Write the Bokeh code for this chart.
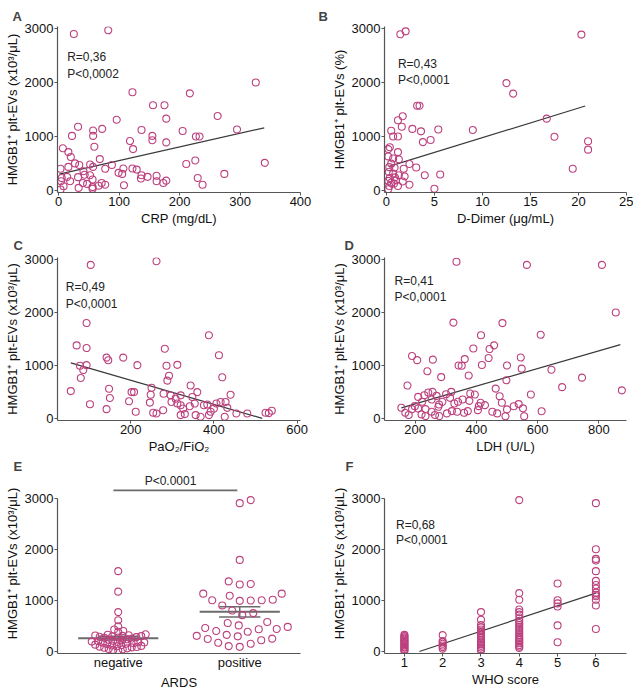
from bokeh.plotting import figure
from bokeh.models import Range1d, FixedTicker, Label
from bokeh.layouts import column, row
from bokeh.embed import file_html
from bokeh.resources import INLINE

FONT = "Liberation Sans"
PINK = "#bc407e"
AXIS = "#555555"
FIT = "#3a3a3a"

Y_TICKS = [0, 1000, 2000, 3000]
Y_LABEL = "HMGB1\u207a plt-EVs (x10\u00b3/\u03bcL)"

# ---------------- A: CRP ----------------
crp = [25, 82, 326, 122, 217, 156, 175, 178, 96, 263,
       32, 57, 72, 137, 205, 295, 22, 57, 155, 155,
       227, 233, 118, 178, 59, 123, 7, 16, 20, 68,
       27, 34, 52, 57, 88, 77, 3, 16, 211, 226,
       341, 99, 105, 107, 122, 129, 137, 147, 162, 162,
       178, 173, 230, 274, 238, 108, 136, 43, 32, 14,
       4, 19, 40, 47, 56, 66, 77, 56, 56, 33,
       8, 3, 5, 52, 41, 71]
crp_evs = [2900, 2970, 2000, 1820, 1800, 1580, 1580, 1330, 1310, 1380,
           1180, 1110, 1140, 1120, 1100, 1130, 1010, 1010, 1010, 930,
           1000, 1000, 915, 890, 810, 765, 780, 710, 620, 580,
           500, 470, 480, 435, 470, 400, 400, 435, 490, 555,
           510, 325, 305, 405, 405, 385, 280, 250, 270, 170,
           180, 135, 230, 305, 105, 95, 220, 290, 245, 250,
           170, 170, 135, 120, 200, 85, 105, 60, 30, 45,
           75, 15, 230, 280, 355, 135]
crp_fit_x = [1, 340]
crp_fit_y = [300, 1160]
crp_stats = ["R=0,36", "P<0,0002"]

# ---------------- B: D-Dimer ----------------
ddimer = [1.45, 2.0, 20.3, 12.5, 13.2, 3.2, 3.45, 16.7, 1.7, 1.2,
          1.6, 2.7, 3.6, 5.4, 9.0, 0.5, 0.7, 1.2, 4.6, 3.8,
          17.5, 21.0, 21.0, 19.4, 0.35, 0.2, 1.2, 0.2, 1.3, 0.5,
          2.4, 3.1, 1.8, 0.85, 0.25, 0.7, 1.3, 1.9, 4.0, 5.6,
          0.35, 1.0, 1.7, 2.4, 1.2, 0.3, 0.2, 5.0, 0.8, 0.2,
          0.3, 0.7, 0.9, 0.5]
ddimer_evs = [2895, 2950, 2890, 1990, 1795, 1570, 1570, 1330, 1375, 1300,
              1180, 1140, 1095, 1130, 1120, 1105, 1000, 1000, 935, 895,
              995, 910, 755, 400, 800, 765, 710, 630, 575, 495,
              490, 425, 400, 420, 340, 310, 280, 260, 280, 295,
              230, 185, 165, 105, 80, 80, 20, 30, 125, 175,
              430, 590, 240, 140]
ddimer_fit_x = [0.28, 20.7]
ddimer_fit_y = [445, 1565]
ddimer_stats = ["R=0,43", "P<0,0001"]

# ---------------- C: PaO2/FiO2 ----------------
pf = [104, 262, 94, 70, 94, 142, 146, 182, 78, 94,
      86, 80, 216, 282, 286, 312, 388, 412, 420, 292,
      288, 56, 102, 148, 150, 142, 196, 202, 208, 212,
      250, 248, 246, 254, 262, 278, 279, 296, 298, 308,
      312, 320, 326, 320, 330, 344, 360, 348, 342, 354,
      356, 368, 376, 384, 392, 400, 406, 416, 428, 440,
      432, 426, 454, 480, 524, 532, 539, 320, 388]
pf_evs = [2900, 2969, 1801, 1379, 1329, 1149, 1099, 1149, 994, 1006,
          913, 764, 1006, 1317, 994, 1012, 1571, 1193, 776, 807,
          714, 516, 267, 559, 385, 174, 323, 497, 497, 124,
          578, 447, 298, 106, 93, 155, 466, 435, 310, 373,
          280, 435, 186, 62, 81, 621, 497, 404, 230, 280,
          62, 31, 248, 261, 124, 186, 280, 310, 310, 447,
          199, 31, 93, 93, 106, 100, 143, 248, 62]
pf_fit_x = [56, 516]
pf_fit_y = [1050, 0]
pf_stats = ["R=0,49", "P<0,0001"]

# ---------------- D: LDH ----------------
ldh = [335, 325, 415, 390, 458, 443, 440, 190, 207, 258,
       362, 342, 352, 418, 240, 285, 375, 175, 155, 168,
       199, 210, 223, 230, 243, 257, 254, 270, 278, 289,
       301, 314, 318, 328, 340, 355, 380, 395, 377, 414,
       428, 372, 405, 360, 337, 320, 304, 279, 265, 254,
       234, 221, 210, 190, 179, 234, 276, 463, 476, 452,
       468, 483, 408, 565, 810, 855, 485, 610, 545, 548,
       500, 645, 745, 680, 875, 578, 498, 538, 522, 552,
       500, 613, 556, 495]
ldh_evs = [2960, 1810, 1570, 1320, 1380, 1310, 1140, 1180, 1100, 1110,
           1120, 1000, 995, 1010, 890, 780, 810, 620, 200, 106,
           231, 406, 313, 438, 488, 500, 356, 425, 263, 313,
           456, 388, 500, 281, 313, 356, 469, 450, 331, 294,
           250, 138, 156, 106, 125, 138, 94, 44, 63, 125,
           175, 75, 188, 175, 63, 44, 219, 563, 419, 125,
           94, 294, 231, 2900, 2900, 2000, 1800, 1580, 1150, 940,
           1000, 920, 770, 590, 530, 450, 720, 270, 230, 190,
           170, 135, 40, 40]
ldh_fit_x = [155, 870]
ldh_fit_y = [200, 1395]
ldh_stats = ["R=0,41", "P<0,0001"]

# ---------------- E: ARDS ----------------
ards_groups = ["negative", "positive"]
ards_negative = [1570, 1170, 770, 610, 490, 430, 400, 385,
                 335, 326, 318, 311, 305, 299, 293, 287, 281, 274, 266,
                 252, 238, 227, 216, 207, 199, 193, 187, 181, 175, 170, 162,
                 150, 141, 133, 125, 117, 109, 101, 94, 87, 80, 72,
                 61, 50, 41, 30, 18]
ards_positive = [2960, 2900, 1790, 1370, 1320, 1310, 1130, 1130, 1090, 1010,
                 1000, 1000, 995, 990, 900, 800, 750, 710, 575, 555,
                 510, 480, 460, 440, 435, 400, 385, 325, 305, 295,
                 250, 245, 220, 170, 150, 105, 90]
ards_mean = [260, 775]
ards_sem = [35, 100]
ards_p = "P<0.0001"

# ---------------- F: WHO score ----------------
who_scores = [1, 2, 3, 4, 5, 6]
who_evs = [
    [325, 300, 275, 250, 230, 205, 190, 160, 140, 120, 95, 75, 50, 30, 10],
    [320, 205, 180, 150, 115, 85, 55],
    [770, 620, 515, 470, 430, 395, 365, 330, 290, 265, 230, 195, 170, 140, 110, 75, 45, 20],
    [2960, 1140, 1010, 820, 770, 720, 650, 600, 555, 520, 480, 445, 400, 360, 320,
     285, 250, 220, 190, 160, 125, 95, 70],
    [1330, 1000, 940, 880, 510, 180],
    [2900, 2000, 1810, 1780, 1570, 1380, 1300, 1230, 1150, 1110, 1080, 1010, 900, 440],
]
who_fit_x = [1.39, 6.0]
who_fit_y = [0, 1140]
who_stats = ["R=0,68", "P<0,0001"]


def make_fig(width, height, xr, yr, bl, br, bt, bb, letter, loff, lstand,
             xlabel, ylabel, xticks):
    p = figure(width=width, height=height,
               x_range=Range1d(*xr), y_range=Range1d(*yr),
               output_backend="svg", toolbar_location=None,
               min_border_left=bl, min_border_right=br,
               min_border_top=bt, min_border_bottom=bb)
    p.outline_line_color = None
    p.grid.visible = False
    p.title.text = letter
    p.title.align = "left"
    p.title.offset = loff
    p.title.standoff = lstand
    p.title.text_font = FONT
    p.title.text_font_style = "bold"
    p.title.text_font_size = "13px"
    for ax in (p.xaxis[0], p.yaxis[0]):
        ax.axis_line_color = AXIS
        ax.axis_line_width = 1.2
        ax.major_tick_line_color = AXIS
        ax.major_tick_in = 0
        ax.major_tick_out = 3
        ax.minor_tick_line_color = None
        ax.major_label_text_font = FONT
        ax.major_label_text_font_size = "13px"
        ax.major_label_text_color = "#111111"
        ax.axis_label_text_font = FONT
        ax.axis_label_text_font_size = "13px"
        ax.axis_label_text_font_style = "normal"
        ax.axis_label_text_color = "#111111"
        ax.major_label_standoff = 1
        ax.axis_label_standoff = 2
    p.xaxis.ticker = FixedTicker(ticks=xticks)
    p.yaxis.ticker = FixedTicker(ticks=Y_TICKS)
    p.xaxis.axis_label = xlabel
    p.yaxis.axis_label = ylabel
    return p


def add_stats(p, x, y_top, dy, texts):
    for i, t in enumerate(texts):
        p.add_layout(Label(x=x, y=y_top - i * dy, text=t, text_font=FONT,
                           text_font_size="12px", text_color="#222222",
                           text_baseline="middle", text_align="left"))


def scatter_panel(p, xs, ys, fx, fy):
    p.line(fx, fy, line_color=FIT, line_width=1.2)
    p.scatter(xs, ys, size=7, fill_color=None, line_color=PINK, line_width=1.1)


def swarm(values, center, px_x, px_y, diam):
    order = sorted(range(len(values)), key=lambda i: values[i])
    placed = []
    xs = [0.0] * len(values)
    for n, i in enumerate(order):
        yp = values[i] * px_y
        k = 0
        chosen = None
        while chosen is None:
            if k == 0:
                cands = [0.0]
            else:
                cands = [k * 0.5, -k * 0.5] if n % 2 == 0 else [-k * 0.5, k * 0.5]
            for off in cands:
                if all((off - qx) ** 2 + (yp - qy) ** 2 >= diam ** 2 for qx, qy in placed):
                    chosen = off
                    break
            k += 1
        placed.append((chosen, yp))
        xs[i] = center + chosen / px_x
    return xs


W1, W2 = 316, 317
L1, R1 = 57, 16
L2, R2 = 68, 7
H1, H2, H3 = 228, 228, 236
YR = (-40, 3040)
YR3 = (-40, 3480)

# Row 1
pa = make_fig(W1, H1, (-2, 400), YR, L1, R1, 26, 36, "A", -45, 5,
              "CRP (mg/dL)", Y_LABEL, [0, 100, 200, 300, 400])
scatter_panel(pa, crp, crp_evs, crp_fit_x, crp_fit_y)
add_stats(pa, 14, 2465, 305, crp_stats)

pb = make_fig(W2, H1, (-0.2, 25), YR, L2, R2, 26, 36, "B", -66, 5,
              "D-Dimer (\u03bcg/mL)", "HMGB1\u207a plt-EVs (%)", [0, 5, 10, 15, 20, 25])
scatter_panel(pb, ddimer, ddimer_evs, ddimer_fit_x, ddimer_fit_y)
add_stats(pb, 1.2, 2350, 310, ddimer_stats)

# Row 2
pc = make_fig(W1, H2, (24, 608), YR, L1, R1, 29, 35, "C", -44, 9,
              "PaO\u2082/FiO\u2082", Y_LABEL, [200, 400, 600])
scatter_panel(pc, pf, pf_evs, pf_fit_x, pf_fit_y)
add_stats(pc, 44, 2484, 330, pf_stats)

pd_ = make_fig(W2, H2, (100, 890), YR, L2, R2, 29, 35, "D", -40, 9,
               "LDH (U/L)", Y_LABEL, [200, 400, 600, 800])
scatter_panel(pd_, ldh, ldh_evs, ldh_fit_x, ldh_fit_y)
add_stats(pd_, 133, 2594, 294, ldh_stats)

# Row 3
pe = make_fig(W1, H3, (0.5, 2.5), YR3, L1, R1, 15, 35, "E", -44, 0,
              "ARDS", Y_LABEL, [1, 2])
pe.yaxis.bounds = (-40, 3000)
pe.xaxis.major_tick_out = 0
pe.xaxis.major_label_overrides = {1: ards_groups[0], 2: ards_groups[1]}
e_px_x = (W1 - L1 - R1) / 2.0
e_px_y = (H3 - 15 - 35) / (YR3[1] - YR3[0])
neg_x = swarm(ards_negative, 1, e_px_x, e_px_y, 4.6)
pos_x = swarm(ards_positive, 2, e_px_x, e_px_y, 11)
centers = [1, 2]
pe.segment(x0=[c - 0.33 for c in centers], x1=[c + 0.33 for c in centers],
           y0=ards_mean, y1=ards_mean, line_color="#6b6b6b", line_width=2)
pe.segment(x0=centers, x1=centers,
           y0=[m - s for m, s in zip(ards_mean, ards_sem)],
           y1=[m + s for m, s in zip(ards_mean, ards_sem)],
           line_color="#6b6b6b", line_width=1.5)
for sign in (-1, 1):
    pe.segment(x0=[c - 0.17 for c in centers], x1=[c + 0.17 for c in centers],
               y0=[m + sign * s for m, s in zip(ards_mean, ards_sem)],
               y1=[m + sign * s for m, s in zip(ards_mean, ards_sem)],
               line_color="#6b6b6b", line_width=1.5)
pe.scatter(neg_x, ards_negative, size=7, fill_color=None, line_color=PINK, line_width=1.1)
pe.scatter(pos_x, ards_positive, size=7, fill_color=None, line_color=PINK, line_width=1.1)
pe.segment(x0=[centers[0] - 0.04], x1=[centers[1] - 0.02], y0=[3150], y1=[3150],
           line_color="#6b6b6b", line_width=1.8)
pe.add_layout(Label(x=1.43, y=3330, text=ards_p, text_font=FONT,
                    text_font_size="12px", text_color="#222222",
                    text_baseline="middle", text_align="center"))

pf_ = make_fig(W2, H3, (0.48, 6.8), YR3, L2, R2, 15, 35, "F", -39, 0,
               "WHO score", Y_LABEL, who_scores)
pf_.yaxis.bounds = (-40, 3000)
pf_.line(who_fit_x, who_fit_y, line_color=FIT, line_width=1.2)
wx, wy = [], []
for s, vals in zip(who_scores, who_evs):
    wx += [s] * len(vals)
    wy += vals
pf_.scatter(wx, wy, size=7, fill_color=None, line_color=PINK, line_width=1.1)
add_stats(pf_, 0.78, 2469, 290, who_stats)

layout = column(row(pa, pb), row(pc, pd_), row(pe, pf_))
open("out.html", "w").write(file_html(layout, INLINE))
